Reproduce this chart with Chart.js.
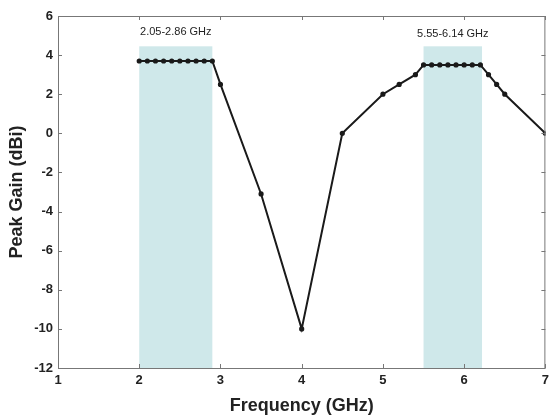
<!DOCTYPE html>
<html>
<head>
<meta charset="utf-8">
<script src="https://cdn.jsdelivr.net/npm/chart.js@4"></script>
<style>
  html, body { margin: 0; padding: 0; background: #fff; }
  #wrap { width: 554px; height: 419px; }
</style>
</head>
<body>
<div id="wrap"><canvas id="gainChart"></canvas></div>
<script>
const freq = [2.0, 2.1, 2.2, 2.3, 2.4, 2.5, 2.6, 2.7, 2.8, 2.9, 3.0, 3.5, 4.0, 4.5, 5.0, 5.2, 5.4, 5.5, 5.6, 5.7, 5.8, 5.9, 6.0, 6.1, 6.2, 6.3, 6.4, 6.5, 7.0];
const gain = [3.7, 3.7, 3.7, 3.7, 3.7, 3.7, 3.7, 3.7, 3.7, 3.7, 2.5, -3.1, -10, 0, 2.0, 2.5, 3.0, 3.5, 3.5, 3.5, 3.5, 3.5, 3.5, 3.5, 3.5, 3.0, 2.5, 2.0, 0];

const bandStart = [2.0, 5.5];
const bandEnd = [2.9, 6.22];
const bandTop = [4.45, 4.45];
const bandLabels = ['2.05-2.86 GHz', '5.55-6.14 GHz'];

const xTicks = [1, 2, 3, 4, 5, 6, 7];
const yTicks = [6, 4, 2, 0, -2, -4, -6, -8, -10, -12];

const bands = {
  id: 'bands',
  beforeDatasetsDraw(chart) {
    const { ctx, scales: { x, y } } = chart;
    ctx.save();
    ctx.fillStyle = '#cfe8ea';
    bandStart.forEach((s, i) => {
      const x0 = x.getPixelForValue(s);
      const x1 = x.getPixelForValue(bandEnd[i]);
      const yt = y.getPixelForValue(bandTop[i]);
      ctx.fillRect(x0, yt, x1 - x0, y.bottom - yt);
    });
    ctx.fillStyle = '#222';
    ctx.font = '11px "Liberation Sans", Arial, sans-serif';
    ctx.textAlign = 'center';
    ctx.textBaseline = 'middle';
    bandLabels.forEach((t, i) => {
      const cx = x.getPixelForValue((bandStart[i] + bandEnd[i]) / 2);
      ctx.fillText(t, cx, y.getPixelForValue(5.2) + (i ? 2 : 0));
    });
    ctx.restore();
  },
  afterDraw(chart) {
    const { ctx, chartArea: a, scales: { x, y } } = chart;
    ctx.save();
    ctx.strokeStyle = '#777';
    ctx.lineWidth = 1;
    ctx.strokeRect(a.left + 0.5, a.top + 0.5, a.right - a.left - 1, a.bottom - a.top);
    ctx.beginPath();
    xTicks.forEach(v => {
      const px = Math.round(x.getPixelForValue(v)) + 0.5;
      ctx.moveTo(px, a.bottom); ctx.lineTo(px, a.bottom - 4);
      ctx.moveTo(px, a.top); ctx.lineTo(px, a.top + 4);
    });
    yTicks.forEach(v => {
      const py = Math.round(y.getPixelForValue(v)) + 0.5;
      ctx.moveTo(a.left, py); ctx.lineTo(a.left + 4, py);
      ctx.moveTo(a.right, py); ctx.lineTo(a.right - 4, py);
    });
    ctx.stroke();
    ctx.restore();
  }
};

new Chart(document.getElementById('gainChart'), {
  type: 'line',
  data: {
    datasets: [{
      data: freq.map((f, i) => ({ x: f, y: gain[i] })),
      borderColor: '#1a1a1a',
      backgroundColor: '#1a1a1a',
      borderWidth: 2,
      pointRadius: 1.6,
      pointHoverRadius: 1.6,
      tension: 0
    }]
  },
  options: {
    responsive: true,
    maintainAspectRatio: false,
    animation: false,
    layout: { padding: { top: 16, right: 5, left: 0, bottom: 0 } },
    plugins: { legend: { display: false }, tooltip: { enabled: false } },
    scales: {
      x: {
        type: 'linear',
        min: 1, max: 7,
        afterBuildTicks: s => { s.ticks = xTicks.map(v => ({ value: v })); },
        afterFit: s => { s.height = 51; },
        grid: { display: false, drawTicks: false },
        border: { display: false },
        ticks: {
          color: '#222', padding: 5,
          font: { family: '"Liberation Sans", Arial, sans-serif', size: 13, weight: 'bold' }
        },
        title: {
          display: true, text: 'Frequency (GHz)', color: '#222', padding: { top: 0, bottom: 2 },
          font: { family: '"Liberation Sans", Arial, sans-serif', size: 18, weight: 'bold' }
        }
      },
      y: {
        min: -12, max: 6,
        afterBuildTicks: s => { s.ticks = yTicks.map(v => ({ value: v })); },
        afterFit: s => { s.width = 58; },
        grid: { display: false, drawTicks: false },
        border: { display: false },
        ticks: {
          color: '#222', padding: 5,
          font: { family: '"Liberation Sans", Arial, sans-serif', size: 13, weight: 'bold' }
        },
        title: {
          display: true, text: 'Peak Gain (dBi)', color: '#222', padding: { top: 6, bottom: 0 },
          font: { family: '"Liberation Sans", Arial, sans-serif', size: 18, weight: 'bold' }
        }
      }
    }
  },
  plugins: [bands]
});
</script>
</body>
</html>
